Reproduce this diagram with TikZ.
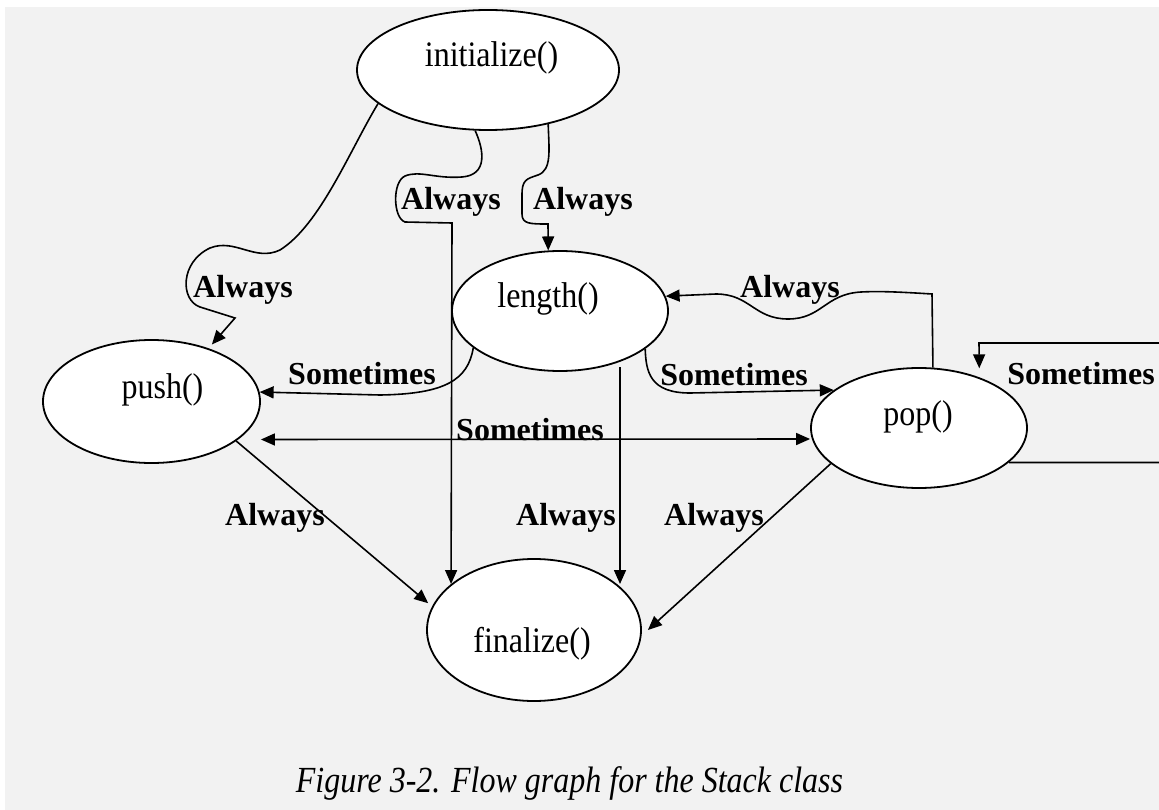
\documentclass[tikz,border=0pt]{standalone}
\usepackage{fontspec}
\setmainfont{Liberation Serif}
\usetikzlibrary{shapes.geometric,arrows.meta,calc}
\definecolor{bgc}{HTML}{F2F2F2}
\newcommand{\vstr}[1]{\scalebox{1}[1.12]{#1}}
\tikzset{
  ell/.style={ellipse, draw, line width=1.8pt, fill=white, inner sep=0pt},
  conn/.style={line width=1.6pt},
  arr/.style={conn, -{Triangle[length=14pt,width=12pt]}},
  biarr/.style={conn, {Triangle[length=14pt,width=12pt]}-{Triangle[length=14pt,width=12pt]}},
  lbl/.style={font=\bfseries\fontsize{32}{38}\selectfont, inner sep=0pt},
  ntxt/.style={font=\fontsize{32}{38}\selectfont, inner sep=0pt},
  captxt/.style={font=\itshape\fontsize{32}{38}\selectfont, inner sep=0pt},
}
\begin{document}
\begin{tikzpicture}[x=1pt,y=-1pt]
\useasboundingbox (0,0) rectangle (1159,810);
\fill[white] (0,0) rectangle (1159,810);
\fill[bgc] (5,7) rectangle (1159,810);
\clip (0,0) rectangle (1159,810);

% ellipses
\node[ell, minimum width=262pt, minimum height=120pt] (init) at (488,70) {};
\node[ell, minimum width=216pt, minimum height=120pt] (len) at (560,311) {};
\node[ell, minimum width=217pt, minimum height=123pt] (push) at (151.5,401.5) {};
\node[ell, minimum width=216pt, minimum height=120pt] (pop) at (919,428) {};
\node[ell, minimum width=214pt, minimum height=142pt] (fin) at (534,630) {};

% node texts
\node[ntxt] (initT) at (491.5,58) {\vstr{initialize()}};
\node[ntxt] (lenT) at (548,299) {\vstr{length()}};
\node[ntxt] (pushT) at (162.5,390) {\vstr{push()}};
\node[ntxt] (popT) at (918,417) {\vstr{pop()}};
\node[ntxt] (finT) at (532,644) {\vstr{finalize()}};

% connectors
\draw[arr, shorten >=5pt] (init.197) .. controls (350,150) and (320,225) .. (280,250)
  .. controls (255,262) and (235,238) .. (210,248)
  .. controls (180,262) and (180,300) .. (200,307) -- (235,318) -- (push.43.7);
\draw[arr] (init.258) .. controls (484,150) and (488,175) .. (462,177)
  .. controls (435,179) and (420,170) .. (405,176)
  .. controls (392,182) and (393,218) .. (405,222) -- (452,223) -- (fin.151);
\draw[arr] (init.318.5) .. controls (549,150) and (552,170) .. (538,175)
  .. controls (526,179) and (522,180) .. (522,195) -- (522,214)
  .. controls (522,224) and (530,224) .. (548,224) -- (len.101);
\draw[arr] (pop.77.7) -- (932,294) .. controls (900,292) and (880,291) .. (861,292)
  .. controls (825,294) and (822,319) .. (788,319)
  .. controls (754,319) and (750,294) .. (716,294) -- (len.8.7);
\draw[arr] (len.336) .. controls (646,372) and (650,393) .. (690,393) -- (pop.156.5);
\draw[arr, shorten >=9pt] (pop.339) -- ++(170,0) |- (979,343) -- (pop.40);
\draw[arr] (len.203.5) .. controls (468,380) and (445,394) .. (380,395) -- (push.5);
\draw[biarr] ([yshift=-38pt]push.east) -- ([yshift=-11pt]pop.west);
\draw[arr] ([xshift=60pt,yshift=-56pt]len.center) -- ([xshift=86pt,yshift=46pt]fin.center);
\draw[arr, shorten >=5pt] (push.335.6) -- (fin.167);
\draw[arr] (pop.202.4) -- ([xshift=6pt]fin.east);

% labels
\node[lbl] (a1) at (243,290) {Always};
\node[lbl] (a2) at (451,202) {Always};
\node[lbl] (a3) at (583,202) {Always};
\node[lbl] (a4) at (790,290) {Always};
\node[lbl] (s1) at (362,374) {Sometimes};
\node[lbl] (s2) at (734,375) {Sometimes};
\node[lbl] (s3) at (1081,374) {Sometimes};
\node[lbl] (s4) at (530,430) {Sometimes};
\node[lbl] (a5) at (275,518) {Always};
\node[lbl] (a6) at (566,518) {Always};
\node[lbl] (a7) at (714,518) {Always};

\node[captxt] (cap) at (569.5,783) {\scalebox{1}[1.15]{Figure 3-2. Flow graph for the Stack class}};
\end{tikzpicture}
\end{document}
